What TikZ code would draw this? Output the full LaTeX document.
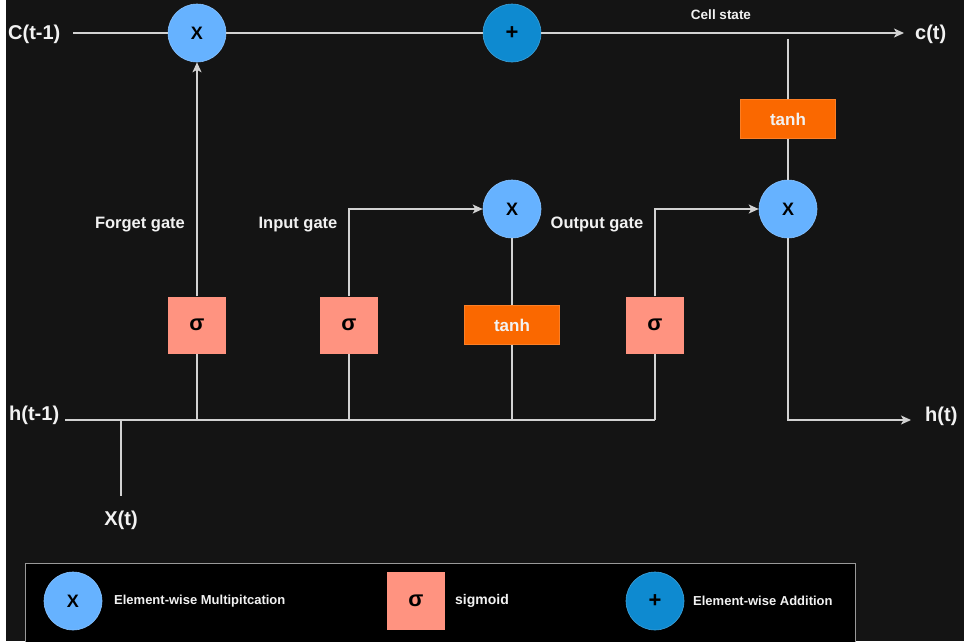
\documentclass[tikz,border=0pt]{standalone}
\usepackage{fontspec}
\setmainfont{Liberation Sans}
\usetikzlibrary{arrows.meta}
\definecolor{bgdark}{HTML}{141414}
\definecolor{wirec}{HTML}{D2D2D2}
\definecolor{lblue}{HTML}{66B2FF}
\definecolor{dblue}{HTML}{0E8AD0}
\definecolor{salmon}{HTML}{FF9380}
\definecolor{orangebox}{HTML}{FA6800}
\definecolor{txtc}{HTML}{F2F2F2}
\tikzset{
  wire/.style={draw=wirec, line width=1.4pt},
  arr/.style={-{Stealth[length=10pt,width=9pt,inset=2.5pt]}},
  mulop/.style={circle, fill=lblue, draw=lblue!80!white, line width=0.6pt, minimum size=58pt, inner sep=0pt,
    font=\fontsize{18}{20}\selectfont\bfseries, text=black},
  addop/.style={circle, fill=dblue, draw=dblue!80!white, line width=0.6pt, minimum size=58pt, inner sep=0pt,
    font=\fontsize{22}{24}\selectfont\bfseries, text=black},
  sigbox/.style={rectangle, fill=salmon, minimum width=58pt, minimum height=57pt, inner sep=0pt,
    font=\fontsize{22}{24}\selectfont\bfseries, text=black},
  tanhbox/.style={rectangle, fill=orangebox, draw=orangebox!85!white, line width=0.5pt, minimum width=95pt, minimum height=39pt, inner sep=0pt,
    font=\fontsize{17}{20}\selectfont\bfseries, text=txtc},
  iolabel/.style={inner sep=0pt, font=\fontsize{20}{24}\selectfont\bfseries, text=txtc},
  gatelabel/.style={inner sep=0pt, font=\fontsize{16.5}{20}\selectfont\bfseries, text=txtc},
  smalllabel/.style={inner sep=0pt, font=\fontsize{13.5}{16}\selectfont\bfseries, text=txtc},
  legendtext/.style={inner sep=0pt, anchor=west, font=\fontsize{13}{16}\selectfont\bfseries, text=txtc},
}
\begin{document}
\begin{tikzpicture}[x=1pt,y=-1pt]
\useasboundingbox (0,0) rectangle (964,641);
% background and left margin strip
\fill[bgdark] (0,0) rectangle (964,641);
\fill[white] (0,0) rectangle (6,641);

% operator nodes
\node[mulop] (m1) at (197,33) {X};
\node[addop] (add) at (512,33) {+};
\node[mulop] (m2) at (512,209) {X};
\node[mulop] (m3) at (788,209) {X};
\node[tanhbox] (tc) at (788,119) {tanh};
\node[tanhbox] (t2) at (512,325) {tanh};
\node[sigbox] (s1) at (197,325) {σ};
\node[sigbox] (s2) at (349,325) {σ};
\node[sigbox] (s3) at (655,325) {σ};

% input / output labels
\node[iolabel, anchor=west] (cprev) at (8,34) {C(t-1)};
\node[iolabel, anchor=west] (cnext) at (915,34) {c(t)};
\node[iolabel, anchor=west] (hprev) at (9,415) {h(t-1)};
\node[iolabel, anchor=west] (hnext) at (925,416) {h(t)};
\node[iolabel] (xt) at (121,520) {X(t)};

% gate labels
\node[gatelabel] (lforget) at (140,225) {Forget gate};
\node[gatelabel] (linput) at (298,225) {Input gate};
\node[gatelabel] (loutput) at (597,224) {Output gate};
\node[smalllabel] (lcell) at (721,15) {Cell state};

% free ends of connectors
\coordinate (cstart) at (73,33);
\coordinate (cend) at (904,33);
\coordinate (ctap) at (788,39);
\coordinate (hstart) at (65,420);
\coordinate (hjoin) at (655,420);
\coordinate (hend) at (911,420);
\coordinate (xtop) at (121,421);
\coordinate (xbot) at (121,496);

% cell state path
\draw[wire] (cstart) -- (m1);
\draw[wire] (m1) -- (add);
\draw[wire, arr] (add) -- (cend);
\draw[wire] (tc) -- (ctap);
\draw[wire] (tc) -- (m3);
\draw[wire, arr] (m3) |- (hend);

% hidden state and input bus
\draw[wire] (hstart) -- (hjoin);
\draw[wire] (xtop) -- (xbot);
\draw[wire] (s1) -- (s1 |- hjoin);
\draw[wire] (s2) -- (s2 |- hjoin);
\draw[wire] (t2) -- (t2 |- hjoin);
\draw[wire] (s3) -- (hjoin);

% gates
\draw[wire, arr] (s1) -- (m1);
\draw[wire, arr] (s2) |- (m2);
\draw[wire] (t2) -- (m2);
\draw[wire, arr] (s3) |- (m3);

% legend
\draw[fill=black, draw=gray!80, line width=1pt] (25,563) rectangle (855,660);
\node[mulop] (lgm) at (73,601) {X};
\node[legendtext] (lgmt) at (114,601) {Element-wise Multipitcation};
\node[sigbox, minimum height=58pt] (lgs) at (416,601) {σ};
\node[legendtext, font=\fontsize{14}{16}\selectfont\bfseries] (lgst) at (455,601) {sigmoid};
\node[addop] (lga) at (655,601) {+};
\node[legendtext] (lgat) at (693,601) {Element-wise Addition};
\end{tikzpicture}
\end{document}
